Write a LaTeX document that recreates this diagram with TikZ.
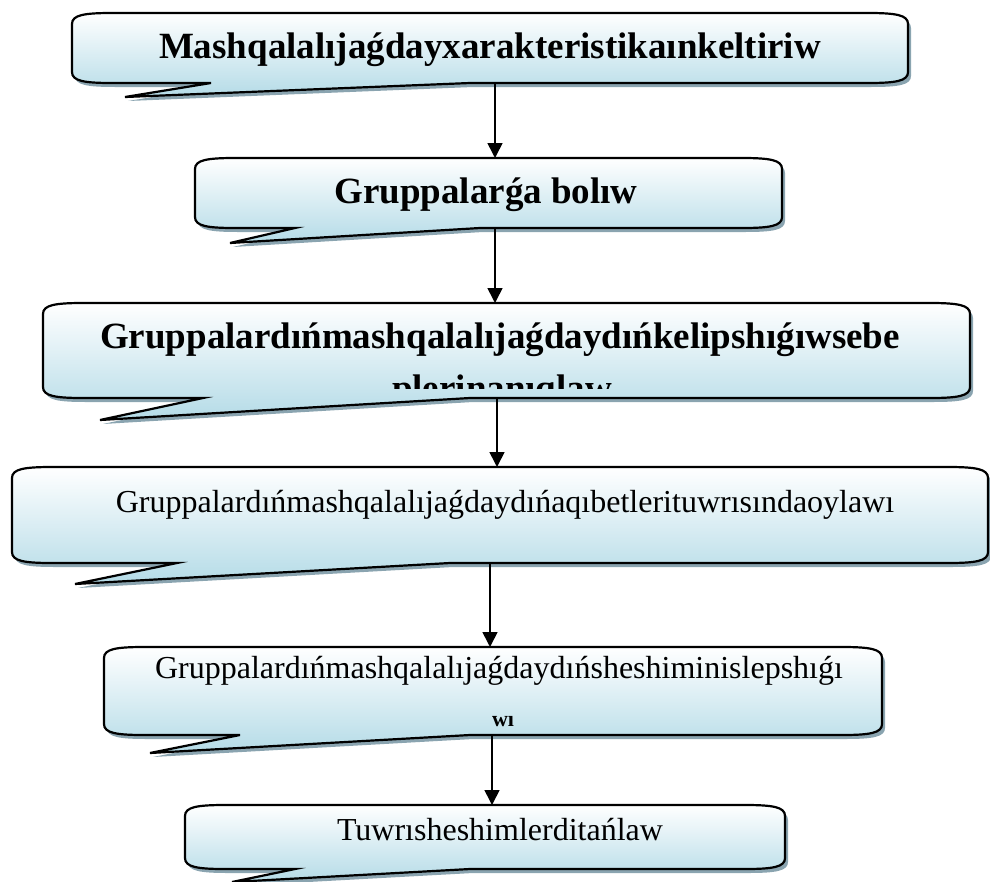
\documentclass[tikz,border=0pt]{standalone}
\usepackage{fontspec}
\setmainfont{Liberation Serif}
\usetikzlibrary{arrows.meta}
\definecolor{shadowc}{RGB}{138,164,176}
\definecolor{fillbot}{RGB}{180,219,231}
\newcommand\cpathdraw[9]{% style, L T R B tx ty xs xe
  \path[#1] ({#2},{#3+11}) .. controls ({#2},{#3+2}) and ({#2+12},{#3}) .. ({#2+40},{#3})
  -- ({#4-40},{#3}) .. controls ({#4-12},{#3}) and ({#4},{#3+2}) .. ({#4},{#3+11})
  -- ({#4},{#5-11}) .. controls ({#4},{#5-2}) and ({#4-12},{#5}) .. ({#4-40},{#5})
  -- ({#9},{#5}) -- ({#6},{#7}) -- ({#8},{#5})
  -- ({#2+40},{#5}) .. controls ({#2+12},{#5}) and ({#2},{#5-2}) .. ({#2},{#5-11}) -- cycle;}
\newcommand\callout[8]{%
  \cpathdraw{fill=shadowc,shift={(3,4)}}{#1}{#2}{#3}{#4}{#5}{#6}{#7}{#8}
  \cpathdraw{top color=white,bottom color=fillbot,draw=black,line width=2.2pt,line join=miter}{#1}{#2}{#3}{#4}{#5}{#6}{#7}{#8}}
\tikzset{
  boldtxt/.style={font=\fontsize{37}{44}\selectfont\bfseries, inner sep=0pt, anchor=base},
  regtxt/.style={font=\fontsize{32}{38}\selectfont, inner sep=0pt, anchor=base},
  smalltxt/.style={font=\fontsize{22}{26}\selectfont\bfseries, inner sep=0pt, anchor=base},
  arr/.style={line width=1.6pt, -{Triangle[width=15pt,length=15pt]}}
}
\begin{document}
\begin{tikzpicture}[x=1pt,y=-1pt]
\useasboundingbox (0,0) rectangle (990,881);
% box 1
\callout{72}{13}{908}{83}{125}{97}{211}{470}
\node[boldtxt] (t1) at (490,58) {Mashqalalıjaǵdayxarakteristikaınkeltiriw};
% box 2
\callout{195}{158}{782}{228}{230}{243}{295}{480}
\node[boldtxt] (t2) at (486,203) {Gruppalarǵa bolıw};
% box 3
\callout{43}{303}{970}{398}{100}{420}{203}{470}
\node[boldtxt] (t3) at (500,348) {Gruppalardıńmashqalalıjaǵdaydıńkelipshıǵıwsebe};
\begin{scope}
\clip (43,303) rectangle (970,388);
\node[boldtxt] (t3b) at (502,400) {plerinanıqlaw};
\end{scope}
% box 4
\callout{12}{467}{988}{563}{75}{584}{177}{450}
\node[regtxt] (t4) at (505,512) {Gruppalardıńmashqalalıjaǵdaydıńaqıbetlerituwrısındaoylawı};
% box 5
\callout{104}{647}{882}{735}{150}{753}{240}{470}
\node[regtxt] (t5) at (499,678) {Gruppalardıńmashqalalıjaǵdaydıńsheshiminislepshıǵı};
\node[smalltxt] (t5b) at (503,726) {wı};
% box 6
\callout{185}{805}{785}{869}{232}{882}{295}{470}
\node[regtxt] (t6) at (500,840) {Tuwrısheshimlerditańlaw};
% connectors
\coordinate (b1s) at (495,83);  \coordinate (b2n) at (495,158);
\coordinate (b2s) at (495,228); \coordinate (b3n) at (495,303);
\coordinate (b3s) at (497,398); \coordinate (b4n) at (497,467);
\coordinate (b4s) at (490,563); \coordinate (b5n) at (490,647);
\coordinate (b5s) at (492,735); \coordinate (b6n) at (492,805);
\draw[arr] (b1s) -- (b2n);
\draw[arr] (b2s) -- (b3n);
\draw[arr] (b3s) -- (b4n);
\draw[arr] (b4s) -- (b5n);
\draw[arr] (b5s) -- (b6n);
\end{tikzpicture}
\end{document}
